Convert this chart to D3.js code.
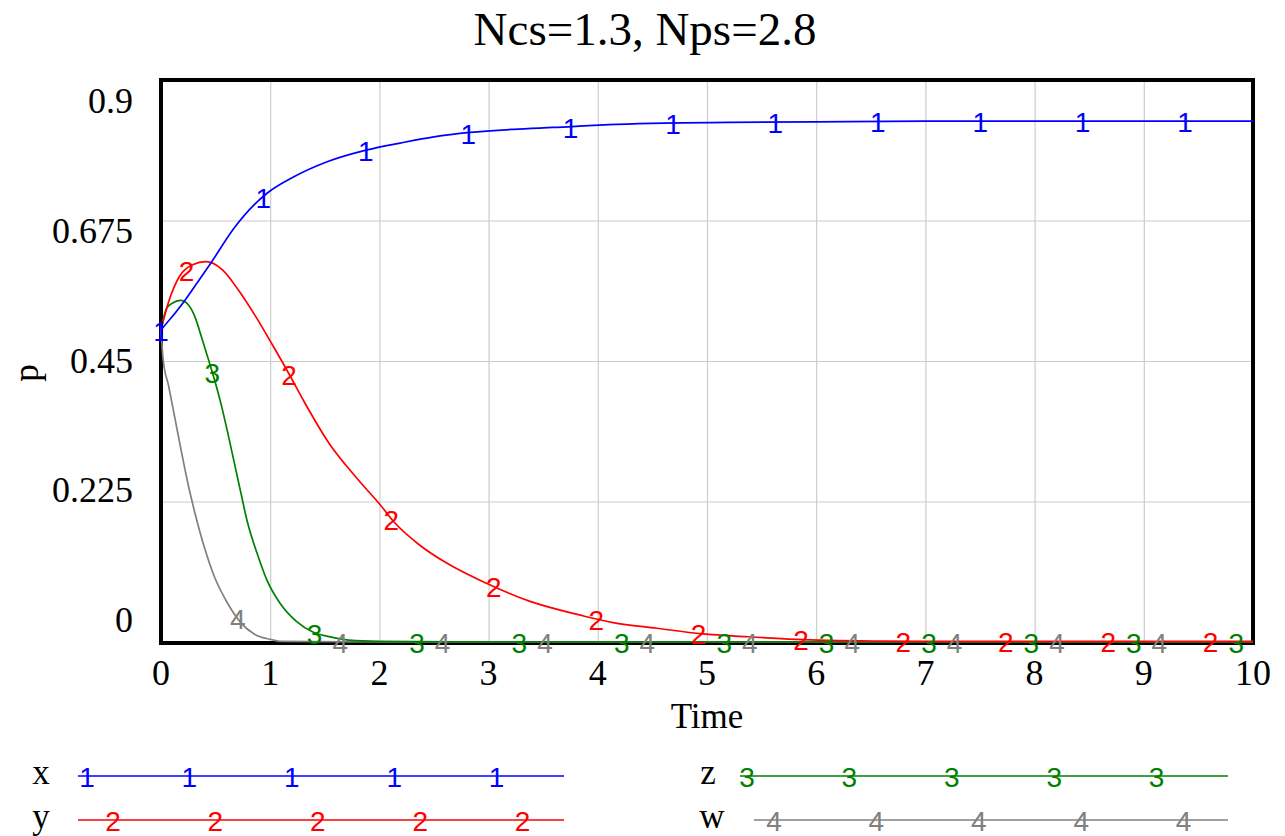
<!DOCTYPE html>
<html>
<head>
<meta charset="utf-8">
<script src="https://cdn.jsdelivr.net/npm/d3@7/dist/d3.min.js"></script>
<style>
  body { margin: 0; background: #fff; }
  svg { display: block; }
</style>
</head>
<body>
<svg id="chart" width="1285" height="836"></svg>
<script>
// Data
var titleText = "Ncs=1.3, Nps=2.8"
var xTicks = [0, 1, 2, 3, 4, 5, 6, 7, 8, 9, 10]
var yTicks = [0, 0.225, 0.45, 0.675, 0.9]
var yTickLabels = ["0", "0.225", "0.45", "0.675", "0.9"]

var seriesNames = ["x", "y", "z", "w"]
var seriesMarks = ["1", "2", "3", "4"]
var seriesColors = ["#0000ff", "#ff0000", "#008000", "#808080"]

var xTime = [0, 0.03, 0.21, 0.335, 0.457, 0.67, 0.852, 0.974, 1.217, 1.522, 1.887, 2.19, 2.5, 2.83, 3.23, 3.59, 4.17, 4.6, 5.2, 6, 7, 8, 9, 10]
var xVals = [0.5, 0.506, 0.545, 0.576, 0.607, 0.663, 0.700, 0.719, 0.745, 0.769, 0.788, 0.799, 0.809, 0.816, 0.821, 0.824, 0.829, 0.831, 0.832, 0.833, 0.834, 0.834, 0.834, 0.834]

var yTime = [0, 0.076, 0.167, 0.289, 0.411, 0.563, 0.715, 0.868, 1.02, 1.17, 1.32, 1.54, 1.78, 2.02, 2.13, 2.37, 2.62, 2.98, 3.38, 3.84, 4.14, 4.54, 4.96, 5.36, 5.81, 6.58, 7, 8, 9, 10]
var yVals = [0.5, 0.548, 0.585, 0.604, 0.609, 0.596, 0.562, 0.521, 0.476, 0.430, 0.382, 0.318, 0.265, 0.217, 0.193, 0.155, 0.126, 0.094, 0.065, 0.043, 0.031, 0.022, 0.013, 0.0085, 0.0043, 0.0015, 0.001, 0.001, 0.001, 0.001]

var zTime = [0, 0.05, 0.1, 0.18, 0.25, 0.31, 0.37, 0.43, 0.49, 0.55, 0.61, 0.67, 0.73, 0.79, 0.88, 0.97, 1.09, 1.24, 1.39, 1.54, 1.72, 2, 3, 10]
var zVals = [0.5, 0.534, 0.542, 0.547, 0.540, 0.521, 0.489, 0.455, 0.420, 0.381, 0.336, 0.288, 0.240, 0.193, 0.142, 0.099, 0.062, 0.033, 0.016, 0.0085, 0.003, 0.001, 0, 0]

var wTime = [0, 0.02, 0.07, 0.13, 0.19, 0.25, 0.31, 0.40, 0.49, 0.61, 0.73, 0.86, 1.01, 1.1, 2, 10]
var wVals = [0.5, 0.452, 0.410, 0.356, 0.302, 0.251, 0.207, 0.150, 0.104, 0.062, 0.031, 0.012, 0.004, 0.001, 0, 0]

var seriesTimes = [xTime, yTime, zTime, wTime]
var seriesVals = [xVals, yVals, zVals, wVals]

// Layout
var plotL = 161, plotR = 1253, plotT = 80, plotB = 642
var serif = "'Liberation Serif', 'Times New Roman', serif"
var sans = "'Liberation Sans', Arial, sans-serif"
var markStep = 102.4
var markFont = 28

var svg = d3.select("#chart")

var x = d3.scaleLinear().domain([0, 10]).range([plotL, plotR])
var y = d3.scaleLinear().domain([0, 0.9]).range([plotB, plotT])
// Vensim spreads the y labels evenly inside the frame
var yLabel = d3.scaleLinear().domain([0, 0.9]).range([632, 113])

// Gridlines
svg.append("g")
    .attr("transform", "translate(0," + plotB + ")")
    .call(d3.axisBottom(x).tickValues(xTicks.slice(1, -1)).tickSize(-(plotB - plotT)).tickFormat(""))
    .call(g => g.select(".domain").remove())
    .selectAll("line").attr("stroke", "#cccccc").attr("stroke-width", 1.2)

svg.append("g")
    .attr("transform", "translate(" + plotL + ",0)")
    .call(d3.axisLeft(y).tickValues(yTicks.slice(1, -1)).tickSize(-(plotR - plotL)).tickFormat(""))
    .call(g => g.select(".domain").remove())
    .selectAll("line").attr("stroke", "#cccccc").attr("stroke-width", 1.2)

// Curves
var line = d3.line()
    .x(d => x(d[0]))
    .y(d => y(d[1]))
    .curve(d3.curveMonotoneX)

function valueAt(ts, vs, t) {
    var i = d3.bisectRight(ts, t)
    if (i <= 0) return vs[0]
    if (i >= ts.length) return vs[vs.length - 1]
    var f = (t - ts[i - 1]) / (ts[i] - ts[i - 1])
    return vs[i - 1] + f * (vs[i] - vs[i - 1])
}

var order = [3, 2, 1, 0]

// Frame
svg.append("rect")
    .attr("x", plotL).attr("y", plotT)
    .attr("width", plotR - plotL).attr("height", plotB + 1 - plotT)
    .attr("fill", "none")
    .attr("stroke", "#000")
    .attr("stroke-width", 4)

order.forEach(function(s) {
    var pts = seriesTimes[s].map((t, i) => [t, seriesVals[s][i]])
    svg.append("path")
        .datum(pts)
        .attr("fill", "none")
        .attr("stroke", seriesColors[s])
        .attr("stroke-width", 1.7)
        .attr("d", line)
})

// Curve number markers
order.forEach(function(s) {
    var marks = []
    for (var px = plotL + s * markStep / 4; px <= plotR; px += markStep) {
        var t = x.invert(px)
        marks.push([px, y(valueAt(seriesTimes[s], seriesVals[s], t))])
    }
    svg.append("g").selectAll("text")
        .data(marks)
        .join("text")
        .attr("x", d => d[0])
        .attr("y", d => d[1] + 11)
        .attr("text-anchor", "middle")
        .attr("font-family", sans)
        .attr("font-size", markFont)
        .attr("fill", seriesColors[s])
        .text(seriesMarks[s])
})

// Axis labels
svg.append("g").selectAll("text")
    .data(xTicks)
    .join("text")
    .attr("x", d => x(d))
    .attr("y", 685)
    .attr("text-anchor", "middle")
    .attr("font-family", serif)
    .attr("font-size", 36)
    .text(d => d)

svg.append("g").selectAll("text")
    .data(yTicks)
    .join("text")
    .attr("x", 133)
    .attr("y", d => yLabel(d))
    .attr("text-anchor", "end")
    .attr("font-family", serif)
    .attr("font-size", 36)
    .text((d, i) => yTickLabels[i])

svg.append("text")
    .attr("x", (plotL + plotR) / 2)
    .attr("y", 728)
    .attr("text-anchor", "middle")
    .attr("font-family", serif)
    .attr("font-size", 35)
    .text("Time")

svg.append("text")
    .attr("transform", "translate(38,373) rotate(-90)")
    .attr("text-anchor", "middle")
    .attr("font-family", serif)
    .attr("font-size", 35)
    .text("p")

svg.append("text")
    .attr("x", 645)
    .attr("y", 45)
    .attr("text-anchor", "middle")
    .attr("font-family", serif)
    .attr("font-size", 47)
    .text(titleText)

// Legend
var legendRows = [
    { s: 0, lx: 41, x0: 78, x1: 564, y: 776, m0: 87 },
    { s: 1, lx: 41, x0: 78, x1: 564, y: 820, m0: 113 },
    { s: 2, lx: 708, x0: 740, x1: 1228, y: 776, m0: 747 },
    { s: 3, lx: 712, x0: 754, x1: 1228, y: 820, m0: 774 }
]

var lg = svg.append("g")
legendRows.forEach(function(r) {
    lg.append("text")
        .attr("x", r.lx)
        .attr("y", r.y + 8)
        .attr("text-anchor", "middle")
        .attr("font-family", serif)
        .attr("font-size", 35)
        .text(seriesNames[r.s])
    lg.append("line")
        .attr("x1", r.x0).attr("x2", r.x1)
        .attr("y1", r.y).attr("y2", r.y)
        .attr("stroke", seriesColors[r.s])
        .attr("stroke-width", 1.7)
    lg.append("g").selectAll("text")
        .data(d3.range(5))
        .join("text")
        .attr("x", k => r.m0 + k * markStep)
        .attr("y", r.y + 11)
        .attr("text-anchor", "middle")
        .attr("font-family", sans)
        .attr("font-size", markFont)
        .attr("fill", seriesColors[r.s])
        .text(seriesMarks[r.s])
})
</script>
</body>
</html>
